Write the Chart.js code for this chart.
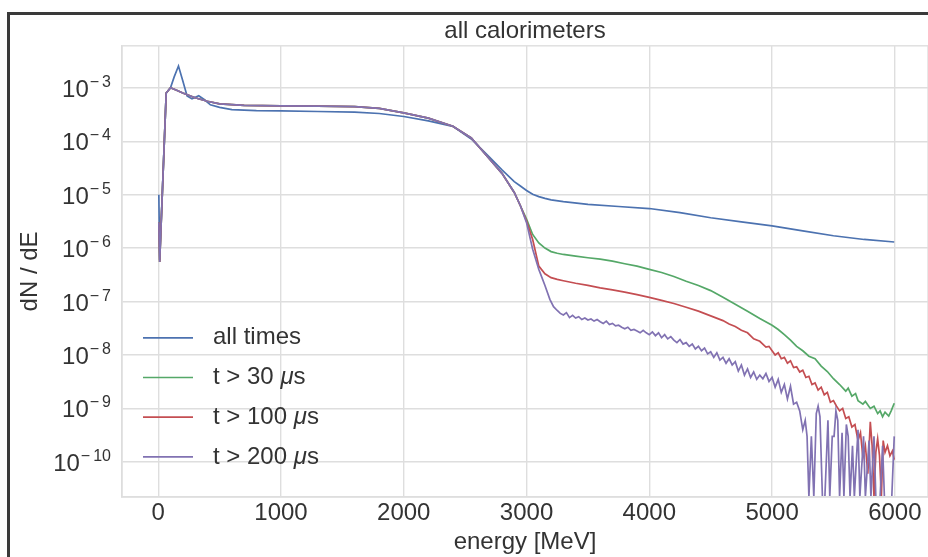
<!DOCTYPE html>
<html>
<head>
<meta charset="utf-8">
<script src="https://cdn.jsdelivr.net/npm/chart.js@4.4.0/dist/chart.umd.min.js"></script>
<style>
  html, body { margin: 0; padding: 0; background: #fff; overflow: hidden; }
  #wrap { position: relative; width: 928px; height: 557px; }
</style>
</head>
<body>
<div id="wrap"><canvas id="chart" width="928" height="557"></canvas></div>
<script>
// energy [MeV] and dN/dE
const energyAll = [5, 12, 65, 100, 130, 165, 200, 235, 275, 330, 380, 425, 500, 600, 800, 1000, 1300, 1600, 1800, 2000,
  2200, 2400, 2550, 2700, 2800, 2900, 2950, 3000, 3050, 3100, 3150, 3200, 3300, 3500, 3750, 4000, 4250, 4500, 4750,
  5000, 5250, 5500, 5750, 5995];
const dnAll = [1.0e-5, 6.0e-7, 8.0e-4, 1.0e-3, 1.6e-3, 2.55e-3, 1.35e-3, 7.0e-4, 6.2e-4, 7.1e-4, 5.9e-4, 4.8e-4, 4.3e-4,
  3.9e-4, 3.75e-4, 3.7e-4, 3.6e-4, 3.5e-4, 3.3e-4, 2.9e-4, 2.4e-4, 1.9e-4, 1.1e-4, 5.0e-5, 2.9e-5, 1.75e-5, 1.45e-5,
  1.2e-5, 1.02e-5, 9.2e-6, 8.5e-6, 8.0e-6, 7.4e-6, 6.6e-6, 6.0e-6, 5.5e-6, 4.6e-6, 3.7e-6, 3.1e-6, 2.6e-6, 2.1e-6,
  1.7e-6, 1.45e-6, 1.3e-6];

// low energy part, the three time cuts lie on top of each other here
const energyHead = [5, 12, 65, 100, 150, 200, 300, 400, 500, 700, 1000, 1300, 1600, 1800, 2000, 2200, 2400, 2550,
  2700, 2800, 2900, 2950];
const dnHead = [3.0e-6, 5.5e-7, 8.0e-4, 1.0e-3, 9.0e-4, 8.0e-4, 6.5e-4, 5.6e-4, 5.0e-4, 4.7e-4, 4.6e-4, 4.55e-4,
  4.45e-4, 4.1e-4, 3.4e-4, 2.7e-4, 1.9e-4, 1.15e-4, 4.6e-5, 2.5e-5, 1.1e-5, 6.2e-6];

// t > 30 us
const energyT30 = [3000, 3050, 3100, 3150, 3200, 3250, 3300, 3400, 3500, 3600, 3700, 3800, 3900, 4000, 4100, 4200,
  4300, 4400, 4500, 4600, 4700, 4800, 4900, 5000, 5050, 5100, 5150, 5200, 5250, 5300, 5350, 5400, 5450, 5500, 5550,
  5600, 5620, 5650, 5680, 5700, 5740, 5760, 5800, 5830, 5860, 5880, 5900, 5920, 5950, 5970, 5995];
const dnT30 = [3.5e-6, 1.8e-6, 1.25e-6, 1.0e-6, 8.6e-7, 8.0e-7, 7.6e-7, 7.1e-7, 6.6e-7, 6.2e-7, 5.7e-7, 5.1e-7,
  4.6e-7, 4.0e-7, 3.5e-7, 2.95e-7, 2.4e-7, 2.0e-7, 1.6e-7, 1.2e-7, 8.9e-8, 6.6e-8, 4.8e-8, 3.6e-8, 3.0e-8, 2.4e-8,
  1.9e-8, 1.45e-8, 1.2e-8, 9.5e-9, 8.5e-9, 6.2e-9, 4.9e-9, 3.6e-9, 2.8e-9, 2.1e-9, 2.4e-9, 1.7e-9, 1.9e-9, 1.4e-9,
  1.2e-9, 1.35e-9, 1.0e-9, 1.1e-9, 8.0e-10, 9.0e-10, 7.0e-10, 8.5e-10, 7.2e-10, 9.0e-10, 1.25e-9];

// t > 100 us
const energyT100 = [3000, 3050, 3100, 3150, 3200, 3250, 3300, 3400, 3500, 3600, 3700, 3800, 3900, 4000, 4100, 4200,
  4300, 4400, 4500, 4600, 4650, 4700, 4750, 4800, 4850, 4900, 4950, 4975, 5000, 5025, 5050, 5075, 5100, 5125, 5150,
  5175, 5200, 5225, 5250, 5275, 5300, 5325, 5350, 5375, 5400, 5425, 5450, 5475, 5500, 5525, 5550, 5575, 5600, 5625,
  5650, 5675, 5700, 5720, 5740, 5760, 5780, 5800, 5815, 5830, 5845, 5860, 5875, 5890, 5905, 5920, 5940, 5960, 5980,
  5995];
const dnT100 = [3.2e-6, 1.45e-6, 4.6e-7, 3.3e-7, 2.8e-7, 2.6e-7, 2.45e-7, 2.2e-7, 2.0e-7, 1.8e-7, 1.65e-7, 1.5e-7,
  1.35e-7, 1.2e-7, 1.05e-7, 9.2e-8, 7.8e-8, 6.6e-8, 5.4e-8, 4.4e-8, 3.8e-8, 3.4e-8, 2.9e-8, 2.6e-8, 2.0e-8, 1.8e-8,
  1.4e-8, 1.45e-8, 1.2e-8, 1.0e-8, 1.1e-8, 8.5e-9, 9.0e-9, 7.0e-9, 7.8e-9, 5.8e-9, 6.0e-9, 4.8e-9, 5.2e-9, 3.8e-9,
  4.0e-9, 2.8e-9, 3.0e-9, 2.2e-9, 2.5e-9, 1.8e-9, 2.0e-9, 1.3e-9, 1.4e-9, 1.1e-9, 9.0e-10, 1.0e-9, 6.5e-10, 7.0e-10,
  4.5e-10, 5.0e-10, 2.5e-10, 3.5e-10, 1.2e-10, 2.0e-10, 6.0e-11, 5.6e-10, 2.0e-10, 0, 1.5e-10, 2.7e-10, 1.3e-10, 0,
  2.5e-10, 1.5e-10, 2.0e-10, 1.3e-10, 1.6e-10, 1.1e-10];

// t > 200 us (empty bins are 0)
const energyT200 = [3000, 3050, 3100, 3150, 3190, 3220, 3250, 3275, 3300, 3325, 3350, 3375, 3400, 3425, 3450, 3475,
  3500, 3525, 3550, 3575, 3600, 3625, 3650, 3675, 3700, 3725, 3750, 3775, 3800, 3825, 3850, 3875, 3900, 3925, 3950,
  3975, 4000, 4025, 4050, 4075, 4100, 4125, 4150, 4175, 4200, 4225, 4250, 4275, 4300, 4325, 4350, 4375, 4400, 4425,
  4450, 4475, 4500, 4525, 4550, 4575, 4600, 4625, 4650, 4675, 4700, 4725, 4750, 4775, 4800, 4825, 4850, 4875, 4900,
  4925, 4950, 4975, 5000, 5025, 5050, 5075, 5100, 5125, 5150, 5175, 5200, 5225, 5250, 5270, 5285, 5300, 5320, 5340,
  5360, 5375, 5390, 5410, 5430, 5455, 5470, 5490, 5505, 5520, 5535, 5550, 5570, 5585, 5605, 5620, 5635, 5655, 5670,
  5700, 5715, 5745, 5760, 5790, 5805, 5830, 5845, 5880, 5900, 5915, 5945, 5975, 5995];
const dnT200 = [3.0e-6, 9.5e-7, 4.0e-7, 2.0e-7, 1.1e-7, 8.0e-8, 6.8e-8, 6.0e-8, 5.6e-8, 6.2e-8, 5.0e-8, 5.5e-8,
  4.9e-8, 5.2e-8, 4.6e-8, 4.9e-8, 4.5e-8, 4.7e-8, 4.3e-8, 4.6e-8, 4.2e-8, 3.9e-8, 4.3e-8, 3.7e-8, 3.9e-8, 3.5e-8,
  3.6e-8, 3.3e-8, 3.1e-8, 3.3e-8, 2.9e-8, 3.0e-8, 2.8e-8, 2.6e-8, 2.9e-8, 2.6e-8, 2.4e-8, 2.7e-8, 2.3e-8, 2.6e-8,
  2.1e-8, 2.4e-8, 2.0e-8, 2.2e-8, 1.9e-8, 1.7e-8, 1.95e-8, 1.6e-8, 1.7e-8, 1.45e-8, 1.6e-8, 1.3e-8, 1.45e-8, 1.2e-8,
  1.35e-8, 1.05e-8, 1.15e-8, 9.0e-9, 1.1e-8, 8.0e-9, 9.0e-9, 7.0e-9, 8.5e-9, 6.5e-9, 7.5e-9, 5.0e-9, 6.5e-9, 4.2e-9,
  5.5e-9, 3.8e-9, 4.8e-9, 3.5e-9, 4.2e-9, 3.6e-9, 4.5e-9, 3.2e-9, 3.8e-9, 2.5e-9, 3.5e-9, 2.0e-9, 2.8e-9, 1.5e-9,
  2.6e-9, 1.2e-9, 1.3e-9, 9.0e-10, 4.0e-10, 6.0e-10, 3.0e-10, 0, 3.0e-10, 0, 8.0e-10, 1.1e-9, 7.0e-10, 0, 0, 6.0e-10,
  0, 3.0e-10, 3.0e-10, 9.0e-10, 6.0e-10, 0, 3.5e-10, 0, 5.0e-10, 3.0e-10, 0, 2.0e-10, 0, 4.0e-10, 0, 3.0e-10, 0,
  2.5e-10, 0, 3.0e-10, 0, 0, 2.0e-10, 0, 0, 0, 3.0e-10];

const seriesLabels = ['all times', 't > 30 μs', 't > 100 μs', 't > 200 μs'];
const xTicks = [0, 1000, 2000, 3000, 4000, 5000, 6000];
const yTicks = [1e-10, 1e-9, 1e-8, 1e-7, 1e-6, 1e-5, 1e-4, 1e-3];

const palette = ['#4c72b0', '#55a868', '#c44e52', '#8172b2'];
const textColor = '#333333';
const gridColor = '#dedede';
const FONT = '"Liberation Sans", Arial, sans-serif';

Chart.defaults.font.family = FONT;
Chart.defaults.color = textColor;

function points(xs, ys) {
  return xs.map((x, i) => ({ x: x, y: ys[i] }));
}

// white page, dark frame on the left and top, light box round the axes
const framePlugin = {
  id: 'frame',
  beforeDraw(chart) {
    const ctx = chart.ctx;
    ctx.save();
    ctx.fillStyle = '#ffffff';
    ctx.fillRect(0, 0, chart.width, chart.height);
    ctx.fillStyle = '#3a3a3a';
    ctx.fillRect(7, 12, chart.width - 7, 3);
    ctx.fillRect(7, 12, 3, chart.height - 12);
    ctx.restore();
  },
  beforeDatasetsDraw(chart) {
    const { ctx, chartArea: a } = chart;
    ctx.save();
    ctx.strokeStyle = gridColor;
    ctx.lineWidth = 1.4;
    ctx.strokeRect(a.left, a.top, a.right - a.left, a.bottom - a.top);
    ctx.restore();
  }
};

// 10^n labels with a raised exponent
const powerTickPlugin = {
  id: 'powerTicks',
  afterDraw(chart) {
    const { ctx, scales: { y }, chartArea } = chart;
    const right = chartArea.left - 11;
    ctx.save();
    ctx.fillStyle = textColor;
    ctx.textBaseline = 'alphabetic';
    y.ticks.forEach(t => {
      const py = y.getPixelForValue(t.value);
      const digits = String(Math.round(-Math.log10(t.value)));
      ctx.font = '16px ' + FONT;
      const dw = ctx.measureText(digits).width;
      const mw = ctx.measureText('\u2212').width;
      ctx.fillText(digits, right - dw, py - 1);
      ctx.fillText('\u2212', right - dw - 3 - mw, py - 1);
      ctx.font = '24px ' + FONT;
      const bw = ctx.measureText('10').width;
      ctx.fillText('10', right - dw - 3 - mw - bw - 1, py + 9);
    });
    ctx.restore();
  }
};

// legend inside the axes, no frame
const legendPlugin = {
  id: 'innerLegend',
  afterDatasetsDraw(chart) {
    const { ctx, chartArea } = chart;
    const x0 = chartArea.left + 21;
    const y0 = chartArea.top + 292;
    ctx.save();
    ctx.textBaseline = 'middle';
    chart.data.datasets.forEach((ds, i) => {
      const ly = y0 + i * 39.7;
      ctx.strokeStyle = ds.borderColor;
      ctx.lineWidth = ds.borderWidth;
      ctx.beginPath();
      ctx.moveTo(x0, ly);
      ctx.lineTo(x0 + 50, ly);
      ctx.stroke();
      let tx = x0 + 70;
      ds.label.split(/(μ)/).forEach(part => {
        if (!part) return;
        ctx.font = (part === 'μ' ? 'italic ' : '') + '24px ' + FONT;
        ctx.fillStyle = textColor;
        ctx.fillText(part, tx, ly);
        tx += ctx.measureText(part).width;
      });
    });
    ctx.restore();
  }
};

// parsing is off so that empty (0) bins keep their value and drop to the bottom of the log axis
const lineStyle = (i, order) => ({
  label: seriesLabels[i],
  parsing: false,
  borderColor: palette[i],
  backgroundColor: palette[i],
  borderWidth: 1.7,
  pointRadius: 0,
  tension: 0,
  fill: false,
  order: order,
  clip: { left: 1, top: 1, right: 1, bottom: -1 }
});

const ctx = document.getElementById('chart').getContext('2d');
new Chart(ctx, {
  type: 'line',
  data: {
    datasets: [
      Object.assign(lineStyle(0, 4), { data: points(energyAll, dnAll) }),
      Object.assign(lineStyle(1, 3), { data: points(energyHead.concat(energyT30), dnHead.concat(dnT30)) }),
      Object.assign(lineStyle(2, 2), { data: points(energyHead.concat(energyT100), dnHead.concat(dnT100)) }),
      Object.assign(lineStyle(3, 1), { data: points(energyHead.concat(energyT200), dnHead.concat(dnT200)) })
    ]
  },
  options: {
    responsive: false,
    animation: false,
    devicePixelRatio: 1,
    layout: { padding: { left: 0, right: 0, top: 0, bottom: 0 } },
    plugins: {
      legend: { display: false },
      tooltip: { enabled: false },
      title: {
        display: true,
        text: 'all calorimeters',
        fullSize: false,
        color: textColor,
        font: { size: 24, weight: 'normal' },
        padding: { top: 17, bottom: 0 }
      }
    },
    scales: {
      x: {
        type: 'linear',
        min: -295,
        max: 6270,
        afterBuildTicks: s => { s.ticks = xTicks.map(v => ({ value: v })); },
        afterFit: s => { s.height = 60; },
        ticks: {
          font: { size: 24 },
          color: textColor,
          padding: 2,
          maxRotation: 0,
          autoSkip: false,
          callback: v => String(v)
        },
        grid: { color: gridColor, lineWidth: 1.4, drawTicks: false },
        border: { display: true, color: gridColor, width: 1.4 },
        title: {
          display: true,
          text: 'energy [MeV]',
          color: textColor,
          font: { size: 24 },
          padding: { top: 0, bottom: 0 }
        }
      },
      y: {
        type: 'logarithmic',
        min: 2.2e-11,
        max: 6.1e-3,
        afterBuildTicks: s => { s.ticks = yTicks.map(v => ({ value: v, major: true })); },
        afterFit: s => { s.width = 122; },
        ticks: { display: false },
        grid: { color: gridColor, lineWidth: 1.4, drawTicks: false },
        border: { display: true, color: gridColor, width: 1.4 },
        title: {
          display: true,
          text: 'dN / dE',
          color: textColor,
          font: { size: 24 },
          padding: { top: 16, bottom: 0 }
        }
      }
    }
  },
  plugins: [framePlugin, powerTickPlugin, legendPlugin]
});
</script>
</body>
</html>
